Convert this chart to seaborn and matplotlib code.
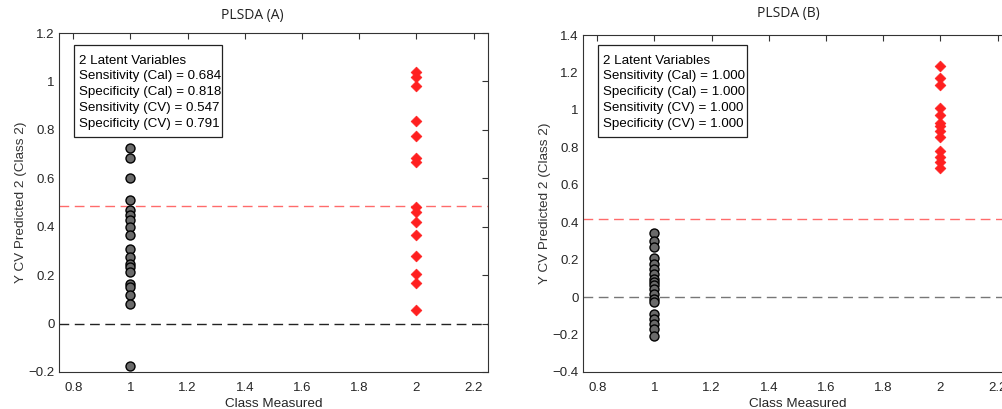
import numpy as np
import pandas as pd
import matplotlib
matplotlib.use("Agg")
import matplotlib.pyplot as plt
from matplotlib.patches import Rectangle
import seaborn as sns

# ---------------- data ----------------
a_class1 = [0.725, 0.683, 0.600, 0.510, 0.469, 0.448, 0.427, 0.400, 0.365,
            0.310, 0.275, 0.248, 0.234, 0.213, 0.162, 0.151, 0.116, 0.082, -0.174]
a_class2 = [1.040, 1.018, 0.982, 0.838, 0.773, 0.683, 0.668, 0.481, 0.461,
            0.419, 0.367, 0.281, 0.205, 0.166, 0.058]
b_class1 = [0.341, 0.302, 0.266, 0.208, 0.177, 0.151, 0.124, 0.097, 0.080,
            0.066, 0.044, 0.018, -0.009, -0.027, -0.089, -0.116, -0.142, -0.169, -0.209]
b_class2 = [1.234, 1.171, 1.133, 1.012, 0.971, 0.932, 0.914, 0.888, 0.857,
            0.781, 0.751, 0.719, 0.692]
a_threshold = 0.487
b_threshold = 0.415
titles = ["PLSDA (A)", "PLSDA (B)"]
a_stats = ["2 Latent Variables", "Sensitivity (Cal) = 0.684", "Specificity (Cal) = 0.818",
           "Sensitivity (CV) = 0.547", "Specificity (CV) = 0.791"]
b_stats = ["2 Latent Variables", "Sensitivity (Cal) = 1.000", "Specificity (Cal) = 1.000",
           "Sensitivity (CV) = 1.000", "Specificity (CV) = 1.000"]
x_ticks = [0.8, 1, 1.2, 1.4, 1.6, 1.8, 2, 2.2]
a_yticks = [-0.2, 0, 0.2, 0.4, 0.6, 0.8, 1, 1.2]
b_yticks = [-0.4, -0.2, 0, 0.2, 0.4, 0.6, 0.8, 1, 1.2, 1.4]

sns.set_style("white")
plt.rcParams['font.family'] = ['Liberation Sans', 'DejaVu Sans']

W, H = 1003, 409
fig = plt.figure(figsize=(W / 100, H / 100), dpi=100)
# axes boxes in pixels: left, right, top, bottom
A_px = (59, 488, 33, 372)
B_px = (583, 1012, 35, 372)

def add_axes(px):
    l, r, t, b = px
    return fig.add_axes([l / W, 1 - b / H, (r - l) / W, (b - t) / H])

axA = add_axes(A_px)
axB = add_axes(B_px)

def fmt(v):
    return ("%g" % v).replace("-", "\u2212")

def panel(ax, px, c1, c2, thr, stats, yticks, ylim, gray_zero, box_px):
    df1 = pd.DataFrame({"x": [1] * len(c1), "y": c1})
    df2 = pd.DataFrame({"x": [2] * len(c2), "y": c2})
    ax.axhline(0, color=gray_zero, lw=1.0, dashes=(7, 4), zorder=1)
    ax.axhline(thr, color="#ff6b6b", lw=1.0, dashes=(7, 4), zorder=1)
    sns.scatterplot(data=df1, x="x", y="y", ax=ax, marker="o", s=42,
                    color="#6a6a6a", edgecolor="black", linewidth=1.0, zorder=3)
    sns.scatterplot(data=df2, x="x", y="y", ax=ax, marker="D", s=30,
                    color="#ff2020", edgecolor="#ff2020", linewidth=0.5, zorder=3)
    ax.set_xlim(0.75, 2.25)
    ax.set_ylim(*ylim)
    ax.set_xticks(x_ticks)
    ax.set_xticklabels([fmt(v) for v in x_ticks])
    ax.set_yticks(yticks)
    ax.set_yticklabels([fmt(v) for v in yticks])
    ax.tick_params(direction="in", length=4, width=0.8, color="#333333",
                   labelsize=9.5, top=True, right=True, pad=3, labelcolor="#262626")
    ax.tick_params(axis="x", pad=7)
    for sp in ax.spines.values():
        sp.set_color("#333333")
        sp.set_linewidth(0.8)
    ax.set_xlabel("Class Measured", fontsize=9.7, color="#262626", labelpad=3)
    ax.set_ylabel("Y CV Predicted 2 (Class 2)", fontsize=9.7, color="#333333", labelpad=1)
    # stats box (pixel coordinates converted to axes fractions)
    l, r, t, b = px
    def fx(x):
        return (x - l) / (r - l)
    def fy(y):
        return (b - y) / (b - t)
    bx0, bx1, by0, by1 = box_px
    ax.add_patch(Rectangle((fx(bx0), fy(by1)), fx(bx1) - fx(bx0), fy(by0) - fy(by1),
                           transform=ax.transAxes, facecolor="white",
                           edgecolor="#222222", lw=0.9, zorder=4))
    for i, line in enumerate(stats):
        ax.text(fx(bx0 + 5), fy(by0 + 15.5 + 16 * i), line, transform=ax.transAxes,
                ha="left", va="center", fontsize=9.6, zorder=5, color="black")

panel(axA, A_px, a_class1, a_class2, a_threshold, a_stats, a_yticks, (-0.2, 1.2),
      "#222222", (74, 222, 45, 137))
panel(axB, B_px, b_class1, b_class2, b_threshold, b_stats, b_yticks, (-0.4, 1.4),
      "#777777", (598, 747, 45, 137))

fig.text(252 / W, 1 - 16 / H, titles[0], ha="center", va="center",
         fontsize=10, family=["Open Sans", "DejaVu Sans"], color="#222222")
fig.text(788 / W, 1 - 14 / H, titles[1], ha="center", va="center",
         fontsize=10, family=["Open Sans", "DejaVu Sans"], color="#222222")

fig.savefig("out.png", dpi=100, facecolor="white")
